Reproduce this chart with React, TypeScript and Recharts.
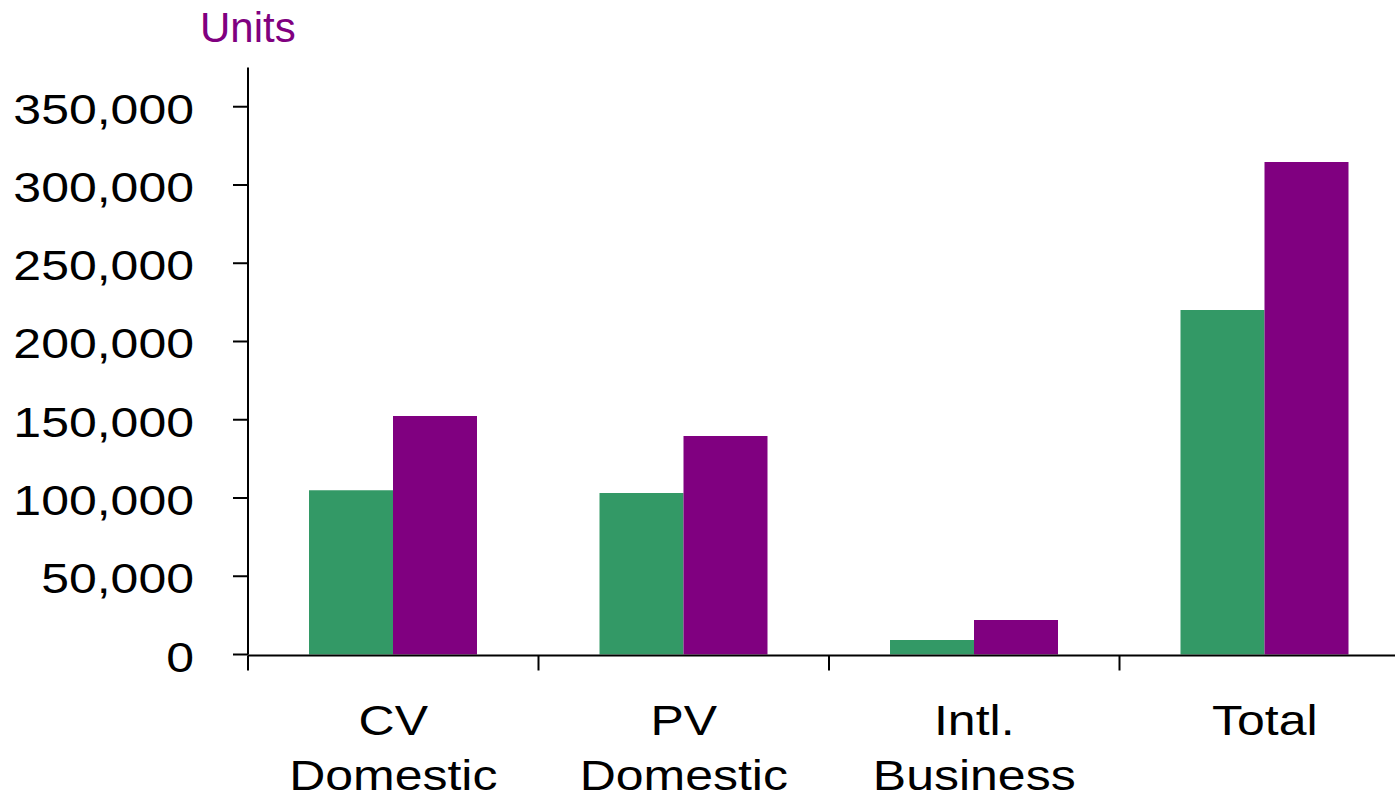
import React from 'react';
import { BarChart, Bar, XAxis, YAxis } from 'recharts';

// Segments, two lines each where the name wraps
const categories = ['CV Domestic', 'PV Domestic', 'Intl. Business', 'Total'];
const categoryLines = [['CV', 'Domestic'], ['PV', 'Domestic'], ['Intl.', 'Business'], ['Total']];

// Unit volumes for the two periods
const periodA = [105000, 103200, 9300, 220100];
const periodB = [152400, 139600, 22000, 314700];

const yTicks = [0, 50000, 100000, 150000, 200000, 250000, 300000, 350000];
const boundaryTicks = [0, 1, 2, 3, 4];

const GREEN = '#339966';
const PURPLE = '#800080';
const FONT = '"Liberation Sans", Arial, sans-serif';
const STRETCH = 1.19;

const data = categories.map((name, i) => ({
  name,
  idx: i,
  a: periodA[i],
  b: periodB[i],
}));

const fmt = (v: number) => v.toLocaleString('en-US');

const YTick = (props: any) => {
  const { x, y, payload } = props;
  return (
    <text
      transform={`translate(${x},${y}) scale(${STRETCH},1)`}
      textAnchor="end"
      dy={17}
      fontSize={42}
      fontFamily={FONT}
      fill="#000"
    >
      {fmt(payload.value)}
    </text>
  );
};

const XTick = (props: any) => {
  const { x, y, payload } = props;
  const i = categories.indexOf(payload && payload.value);
  const lines = i >= 0 ? categoryLines[i] : [];
  return (
    <g transform={`translate(${x},${y})`}>
      {lines.map((ln, k) => (
        <text
          key={k}
          transform={`translate(0,${80.5 + k * 55}) scale(${STRETCH},1)`}
          textAnchor="middle"
          fontSize={42}
          fontFamily={FONT}
          fill="#000"
        >
          {ln}
        </text>
      ))}
    </g>
  );
};

export default function App() {
  return (
    <div
      style={{
        position: 'absolute',
        left: 0,
        top: 0,
        width: 1395,
        height: 800,
        overflow: 'hidden',
        background: '#fff',
      }}
    >
      <div
        style={{
          position: 'absolute',
          left: 200,
          top: 7,
          fontFamily: FONT,
          fontSize: 42,
          lineHeight: '42px',
          color: PURPLE,
        }}
      >
        Units
      </div>
      <BarChart
        width={1420}
        height={800}
        data={data}
        margin={{ top: 67.6, right: 10, bottom: 0.5, left: 0 }}
        barCategoryGap={61}
        barGap={0}
      >
        <XAxis
          dataKey="name"
          xAxisId="cat"
          height={1}
          axisLine={false}
          tickLine={false}
          tickSize={0}
          tickMargin={0}
          interval={0}
          tick={XTick}
        />
        <XAxis
          xAxisId="edge"
          type="number"
          dataKey="idx"
          domain={[0, 4]}
          ticks={boundaryTicks}
          height={144}
          axisLine={{ stroke: '#000', strokeWidth: 2 }}
          tickLine={{ stroke: '#000', strokeWidth: 2 }}
          tickSize={15}
          tickFormatter={() => ''}
          allowDataOverflow
        />
        <YAxis
          width={248}
          domain={[0, 375000]}
          ticks={yTicks}
          axisLine={{ stroke: '#000', strokeWidth: 2 }}
          tickLine={{ stroke: '#000', strokeWidth: 2 }}
          tickSize={15}
          tickMargin={39}
          tick={YTick}
          interval={0}
        />
        <Bar xAxisId="cat" dataKey="a" fill={GREEN} isAnimationActive={false} />
        <Bar xAxisId="cat" dataKey="b" fill={PURPLE} isAnimationActive={false} />
      </BarChart>
    </div>
  );
}
